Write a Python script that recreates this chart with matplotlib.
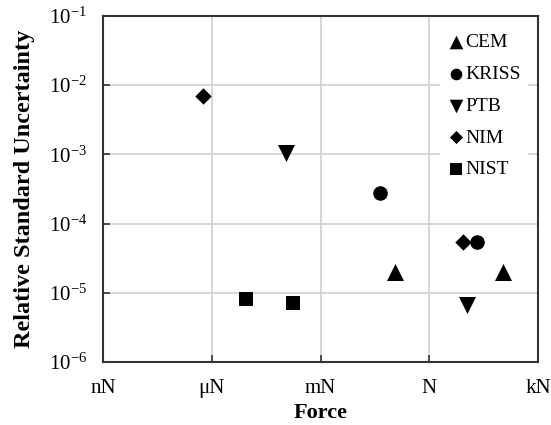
import matplotlib
matplotlib.use("Agg")
import matplotlib.pyplot as plt
import numpy as np

plt.rcParams['font.family'] = ['Liberation Serif', 'DejaVu Serif']
plt.rcParams['mathtext.fontset'] = 'custom'
plt.rcParams['mathtext.rm'] = 'Liberation Serif'
plt.rcParams['mathtext.it'] = 'Liberation Serif:italic'
plt.rcParams['mathtext.bf'] = 'Liberation Serif:bold'

# Data (force in N, relative standard uncertainty)
cem_x = [0.11, 105.0]
cem_y = [2.0e-5, 2.0e-5]
kriss_x = [0.043, 21.0]
kriss_y = [2.8e-4, 5.4e-5]
ptb_x = [1.1e-4, 10.7]
ptb_y = [1.05e-3, 6.6e-6]
nim_x = [5.6e-7, 8.3]
nim_y = [7.0e-3, 5.4e-5]
nist_x = [8.7e-6, 1.7e-4]
nist_y = [8.1e-6, 7.1e-6]

x_ticks = [1e-9, 1e-6, 1e-3, 1e0, 1e3]
x_labels = ['nN', 'μN', 'mN', 'N', 'kN']
y_ticks = [1e-6, 1e-5, 1e-4, 1e-3, 1e-2, 1e-1]
y_labels = [r'$10^{-6}$', r'$10^{-5}$', r'$10^{-4}$', r'$10^{-3}$', r'$10^{-2}$', r'$10^{-1}$']

fig = plt.figure(figsize=(5.51, 4.25), dpi=100)
ax = fig.add_axes([103/551, 1-362/425, (538-103)/551, (362-16)/425])

ax.scatter(cem_x, cem_y, marker='^', s=150, color='black', label='CEM', zorder=3, linewidths=0)
ax.scatter(kriss_x, kriss_y, marker='o', s=110, color='black', label='KRISS', zorder=3, linewidths=0)
ax.scatter(ptb_x, ptb_y, marker='v', s=150, color='black', label='PTB', zorder=3, linewidths=0)
ax.scatter(nim_x, nim_y, marker='D', s=70, color='black', label='NIM', zorder=3, linewidths=0)
ax.scatter(nist_x, nist_y, marker='s', s=100, color='black', label='NIST', zorder=3, linewidths=0)

ax.set_xscale('log')
ax.set_yscale('log')
ax.set_xlim(1e-9, 1e3)
ax.set_ylim(1e-6, 1e-1)
ax.set_xticks(x_ticks)
ax.set_xticklabels(x_labels)
ax.set_yticks(y_ticks)
ax.set_yticklabels(y_labels)
ax.minorticks_off()
ax.tick_params(axis='both', direction='in', length=5, width=1.2, color='#333333',
               labelsize=15)
ax.tick_params(axis='y', pad=11.5)
ax.tick_params(axis='x', pad=12)
ax.grid(True, color='#d0d0d0', linewidth=1.2, zorder=0)
ax.set_axisbelow(True)
for sp in ax.spines.values():
    sp.set_color('#333333')
    sp.set_linewidth(1.5)

ax.set_xlabel('Force', fontsize=16, fontweight='bold', labelpad=4)
ax.set_ylabel('Relative Standard Uncertainty', fontsize=17.5, fontweight='bold', labelpad=10)

leg = ax.legend(loc='upper right', frameon=True, fontsize=14, handletextpad=0.0,
                labelspacing=0.73, borderaxespad=0.5, handlelength=0.9,
                scatterpoints=1, borderpad=0.4, markerscale=0.8)
leg.get_frame().set_edgecolor('none')
leg.get_frame().set_facecolor('white')
leg.get_frame().set_alpha(1.0)
leg.get_frame().set_boxstyle('square', pad=0)

fig.savefig('out.png', dpi=100)
